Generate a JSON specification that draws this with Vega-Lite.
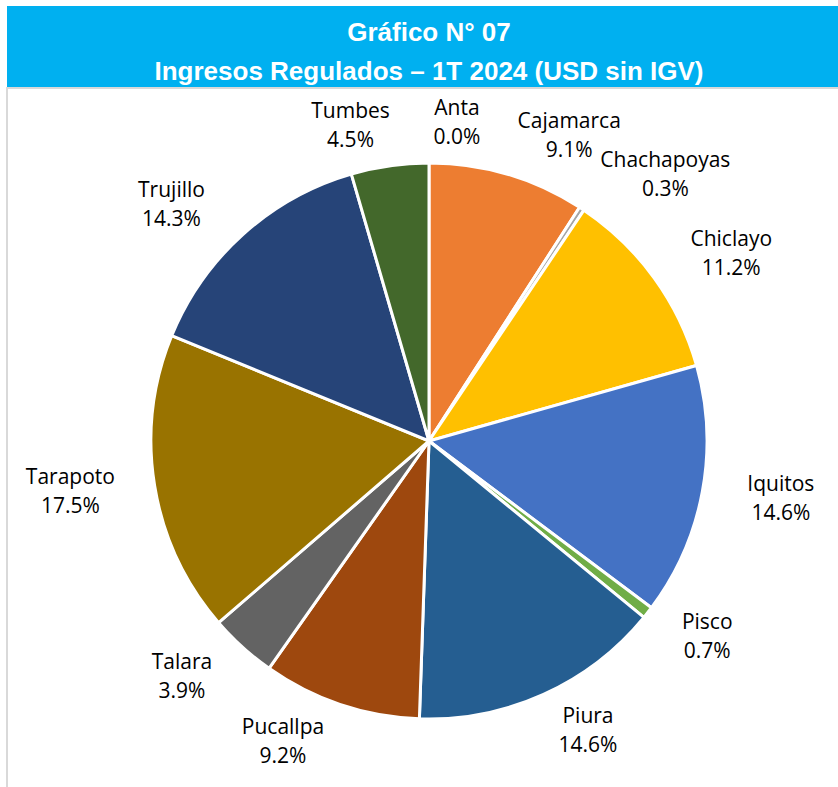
{
  "$schema": "https://vega.github.io/schema/vega-lite/v6.json",
  "padding": {"left": 6, "top": 6, "right": 0, "bottom": 0},
  "background": "white",
  "spacing": 0,
  "config": {"view": {"stroke": null}, "concat": {"spacing": 0}},
  "vconcat": [
    {
      "width": 832,
      "height": 81,
      "view": {"fill": "#00B0F0", "stroke": null},
      "data": {"values": [{"titulo": "Gráfico N° 07\nIngresos Regulados – 1T 2024 (USD sin IGV)"}]},
      "mark": {"type": "text", "font": "Liberation Sans", "fontWeight": "bold", "fontSize": 26, "color": "white", "lineBreak": "\n", "lineHeight": 39, "baseline": "middle", "align": "center", "dy": -14, "dx": 6},
      "encoding": {"text": {"field": "titulo", "type": "nominal"}}
    },
    {
      "width": 844,
      "height": 706,
      "view": {"stroke": "#D9D9D9", "strokeWidth": 2},
      "data": {"values": [
        {"orden": 1, "region": "Anta", "pct": 0.0, "etiqueta": "Anta\n0.0%"},
        {"orden": 2, "region": "Cajamarca", "pct": 9.1, "etiqueta": "Cajamarca\n9.1%"},
        {"orden": 3, "region": "Chachapoyas", "pct": 0.3, "etiqueta": "Chachapoyas\n0.3%"},
        {"orden": 4, "region": "Chiclayo", "pct": 11.2, "etiqueta": "Chiclayo\n11.2%"},
        {"orden": 5, "region": "Iquitos", "pct": 14.6, "etiqueta": "Iquitos\n14.6%"},
        {"orden": 6, "region": "Pisco", "pct": 0.7, "etiqueta": "Pisco\n0.7%"},
        {"orden": 7, "region": "Piura", "pct": 14.6, "etiqueta": "Piura\n14.6%"},
        {"orden": 8, "region": "Pucallpa", "pct": 9.2, "etiqueta": "Pucallpa\n9.2%"},
        {"orden": 9, "region": "Talara", "pct": 3.9, "etiqueta": "Talara\n3.9%"},
        {"orden": 10, "region": "Tarapoto", "pct": 17.5, "etiqueta": "Tarapoto\n17.5%"},
        {"orden": 11, "region": "Trujillo", "pct": 14.3, "etiqueta": "Trujillo\n14.3%"},
        {"orden": 12, "region": "Tumbes", "pct": 4.5, "etiqueta": "Tumbes\n4.5%"}
      ]},
      "encoding": {
        "theta": {"field": "pct", "type": "quantitative", "stack": true},
        "order": {"field": "orden", "type": "quantitative"}
      },
      "layer": [
        {
          "mark": {"type": "arc", "outerRadius": 278, "stroke": "white", "strokeWidth": 3},
          "encoding": {
            "color": {
              "field": "region", "type": "nominal", "legend": null,
              "scale": {
                "domain": ["Anta", "Cajamarca", "Chachapoyas", "Chiclayo", "Iquitos", "Pisco", "Piura", "Pucallpa", "Talara", "Tarapoto", "Trujillo", "Tumbes"],
                "range": ["#5B9BD5", "#ED7D31", "#A5A5A5", "#FFC000", "#4472C4", "#70AD47", "#255E91", "#9E480E", "#636363", "#997300", "#264478", "#43682B"]
              }
            }
          }
        },
        {
          "mark": {
            "type": "text", "radius": 318, "font": "Open Sans", "fontSize": 21,
            "lineBreak": "\n", "lineHeight": 29, "baseline": "middle", "dy": -14,
            "align": "center",
            "dx": {"expr": "((datum.pct_start + datum.pct_end) / 2 > 49.95 ? -1 : 1) * max(length(datum.region), 5) * 5.6"},
            "color": "#000000"
          },
          "encoding": {"text": {"field": "etiqueta", "type": "nominal"}}
        }
      ]
    }
  ]
}
